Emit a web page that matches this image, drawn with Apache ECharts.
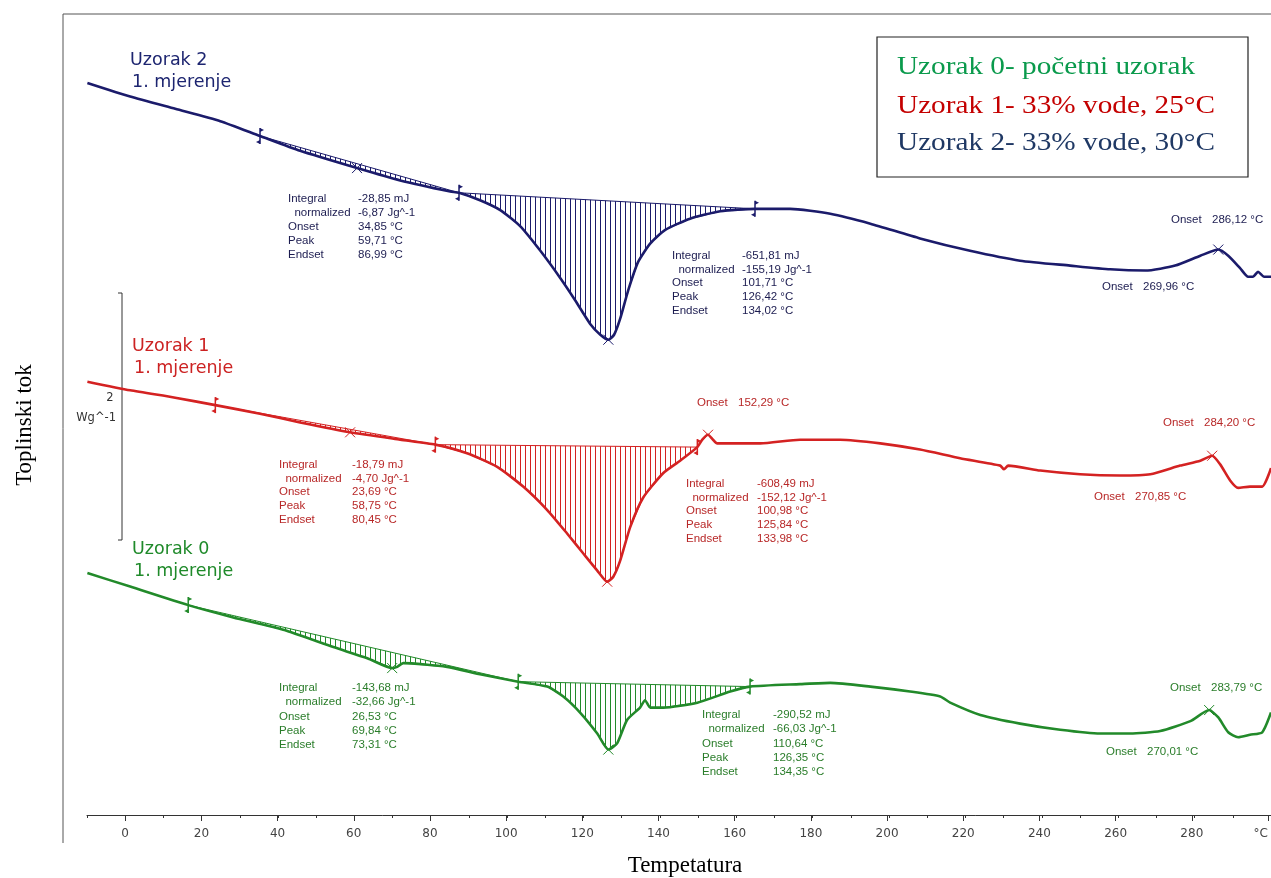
<!DOCTYPE html>
<html><head><meta charset="utf-8">
<script src="https://cdn.jsdelivr.net/npm/echarts@6/dist/echarts.min.js"></script>
<style>html,body{margin:0;padding:0;background:#fff}#c{width:1271px;height:878px}</style>
</head><body><div id="c"></div>
<script>
// ---------------- DATA ----------------
// Uzorak 2 (blue) : temperature (°C) and heat flow (W/g, offset)
const s2Temp = [-9.9,1.3,13.1,24.9,35.3,45.8,60.7,72.0,85.1,87.4,92.9,98.2,103.4,108.7,113.9,117.8,121.7,124.4,126.5,128.0,129.6,131.7,134.3,137.5,141.4,147.9,155.8,164.9,174.1,184.6,195.1,208.1,221.2,234.3,247.4,257.9,267.1,274.9,281.5,286.2,288.8,291.9,294.0,295.3,296.6,298.2,300.0];
const s2Flow = [5.93,5.82,5.72,5.62,5.50,5.38,5.24,5.14,5.05,5.04,4.98,4.90,4.77,4.57,4.35,4.17,3.98,3.89,3.85,3.89,4.02,4.25,4.48,4.63,4.74,4.83,4.89,4.91,4.91,4.87,4.79,4.67,4.57,4.49,4.45,4.42,4.41,4.45,4.53,4.58,4.53,4.43,4.36,4.36,4.40,4.36,4.36];
const s2Regions = [[35.3,87.4],[87.4,164.9]];
const s2Limits = [35.3,87.4,164.9];
const s2Peaks = [60.7,126.5,286.2];

// Uzorak 1 (red)
const s1Temp = [-9.9,1.3,13.1,23.6,35.3,45.8,58.9,72.0,81.2,89.5,97.4,104.2,110.5,115.7,119.9,123.6,126.2,127.8,129.6,132.2,135.6,140.9,145.3,149.8,151.1,152.6,153.9,155.0,166.3,176.7,187.2,197.7,208.1,218.6,229.1,230.1,231.2,239.6,250.0,260.5,268.4,276.2,281.5,284.6,286.7,289.3,291.4,294.5,297.7,300.0];
const s1Flow = [3.51,3.44,3.38,3.32,3.25,3.18,3.10,3.04,3.00,2.93,2.82,2.66,2.47,2.28,2.12,1.98,1.89,1.93,2.06,2.33,2.57,2.77,2.87,2.98,3.04,3.08,3.04,3.01,3.01,3.04,3.04,3.01,2.96,2.89,2.83,2.80,2.83,2.79,2.76,2.75,2.76,2.83,2.87,2.91,2.84,2.71,2.65,2.66,2.66,2.81];
const s1Regions = [[23.6,81.2],[81.2,149.8]];
const s1Limits = [23.6,81.2,149.8];
const s1Peaks = [58.9,126.2,152.6,284.6];

// Uzorak 0 (green)
const s0Temp = [-9.9,1.3,16.5,28.3,41.4,54.5,63.4,69.9,71.2,72.8,84.3,92.9,102.9,110.5,114.7,119.1,123.6,126.5,128.8,131.4,134.8,136.1,137.5,140.9,149.8,158.4,163.6,176.7,184.6,195.1,205.5,213.4,216.0,223.9,234.3,244.8,255.3,263.1,271.0,278.9,283.8,286.2,288.8,291.4,294.5,297.7,300.0];
const s0Flow = [1.96,1.85,1.70,1.60,1.50,1.36,1.27,1.19,1.20,1.23,1.20,1.14,1.08,1.04,0.96,0.83,0.66,0.53,0.58,0.77,0.87,0.93,0.87,0.87,0.91,1.00,1.04,1.06,1.07,1.04,1.00,0.96,0.91,0.81,0.74,0.69,0.66,0.66,0.68,0.76,0.85,0.79,0.67,0.63,0.65,0.67,0.83];
const s0Regions = [[16.5,102.9],[102.9,163.6]];
const s0Limits = [16.5,102.9,163.6];
const s0Peaks = [69.9,126.5,283.8];

// annotation texts
const annLabels = ['Integral','  normalized','Onset','Peak','Endset'];
const s2Block1 = ['-28,85 mJ','-6,87 Jg^-1','34,85 °C','59,71 °C','86,99 °C'];
const s2Block2 = ['-651,81 mJ','-155,19 Jg^-1','101,71 °C','126,42 °C','134,02 °C'];
const s1Block1 = ['-18,79 mJ','-4,70 Jg^-1','23,69 °C','58,75 °C','80,45 °C'];
const s1Block2 = ['-608,49 mJ','-152,12 Jg^-1','100,98 °C','125,84 °C','133,98 °C'];
const s0Block1 = ['-143,68 mJ','-32,66 Jg^-1','26,53 °C','69,84 °C','73,31 °C'];
const s0Block2 = ['-290,52 mJ','-66,03 Jg^-1','110,64 °C','126,35 °C','134,35 °C'];
const s2Onsets = ['286,12 °C','269,96 °C'];
const s1Onsets = ['152,29 °C','284,20 °C','270,85 °C'];
const s0Onsets = ['283,79 °C','270,01 °C'];
const sampleNames = ['Uzorak 2','Uzorak 1','Uzorak 0'];
const runName = '1. mjerenje';
const legendLines = ['Uzorak 0- početni uzorak','Uzorak 1- 33% vode, 25°C','Uzorak 2- 33% vode, 30°C'];
const scaleLabel = ['2','Wg^-1'];
const xTitle = 'Tempetatura';
const yTitle = 'Toplinski tok';
const xTickUnit = '°C';

// ---------------- STYLE / LAYOUT ----------------
const C2 = '#1b1b6b', C1 = '#d42222', C0 = '#228a2a';
const T2 = '#1c1c50', T1 = '#b82828', T0 = '#2a7d2a';
const annFont = '11.5px "Liberation Sans", Arial, sans-serif';
const titleFont = '17.5px "DejaVu Sans", sans-serif';

function hatchPattern(color, step) {
  const c = document.createElement('canvas');
  c.width = step; c.height = 4;
  const g = c.getContext('2d');
  g.fillStyle = color; g.fillRect(0, 0, 1, 4);
  return {image: c, repeat: 'repeat'};
}
function lookup(T, Y, t) { const i = T.indexOf(t); return Y[i]; }

function lineSeries(T, Y, color) {
  return {type:'line', xAxisIndex:0, yAxisIndex:0, data:T.map((t,i)=>[t,Y[i]]),
    showSymbol:false, silent:true, z:5, smooth:0.2,
    lineStyle:{color:color, width:2.6}};
}
function hatchSeries(T, Y, regions, color) {
  const pat = hatchPattern(color, 5);
  return {type:'custom', xAxisIndex:0, yAxisIndex:0, clip:false, silent:true, z:3,
    data: regions.map(r => [r[0], r[1]]),
    renderItem: function(params, api) {
      const r = regions[params.dataIndex];
      const pts = [];
      for (let i = 0; i < T.length; i++) {
        if (T[i] >= r[0] - 1e-9 && T[i] <= r[1] + 1e-9) pts.push(api.coord([T[i], Y[i]]));
      }
      return {type:'polygon', shape:{points:pts}, style:{fill:pat, stroke:color, lineWidth:1}};
    }};
}
function limitSeries(T, Y, limits, color) {
  return {type:'custom', xAxisIndex:0, yAxisIndex:0, clip:false, silent:true, z:6,
    data: limits.map(t => [t, lookup(T, Y, t)]),
    renderItem: function(params, api) {
      const p = api.coord([api.value(0), api.value(1)]);
      const x = p[0], y = p[1];
      return {type:'group', children:[
        {type:'line', shape:{x1:x,y1:y-8,x2:x,y2:y+8}, style:{stroke:color, lineWidth:1.5}},
        {type:'polygon', shape:{points:[[x,y-8],[x+4,y-6],[x,y-4]]}, style:{fill:color}},
        {type:'polygon', shape:{points:[[x,y+8],[x-4,y+6],[x,y+4]]}, style:{fill:color}}
      ]};
    }};
}
function peakSeries(T, Y, peaks, color) {
  return {type:'custom', xAxisIndex:0, yAxisIndex:0, clip:false, silent:true, z:6,
    data: peaks.map(t => [t, lookup(T, Y, t)]),
    renderItem: function(params, api) {
      const p = api.coord([api.value(0), api.value(1)]);
      const x = p[0], y = p[1], s = 5;
      return {type:'group', children:[
        {type:'line', shape:{x1:x-s,y1:y-s,x2:x+s,y2:y+s}, style:{stroke:color, lineWidth:1}},
        {type:'line', shape:{x1:x-s,y1:y+s,x2:x+s,y2:y-s}, style:{stroke:color, lineWidth:1}}
      ]};
    }};
}

function txt(x, y, text, font, fill, align, vAlign, extra) {
  return Object.assign({type:'text', x:x, y:y, silent:true, z:100,
    style:{text:text, font:font, fill:fill, align:align||'left', verticalAlign:vAlign||'middle'}}, extra||{});
}
function block(xl, xv, top, lh, vals, color) {
  const out = [];
  for (let i = 0; i < 5; i++) {
    out.push(txt(xl, top + i*lh, annLabels[i], annFont, color));
    out.push(txt(xv, top + i*lh, vals[i], annFont, color));
  }
  return out;
}
function onset(xl, y, val, color) {
  return [txt(xl, y, 'Onset', annFont, color), txt(xl + 41, y, val, annFont, color)];
}
function measure(text, font) {
  const c = document.createElement('canvas').getContext('2d');
  c.font = font; return c.measureText(text).width;
}

const legendFont = '25px "Liberation Serif", "Times New Roman", serif';
const legendColors = ['#0a9a4c', '#c40000', '#1f3864'];
const legendY = [67, 106, 143];
const legendW = [298, 318, 318];

let graphics = [];
// frame
graphics.push({type:'line', shape:{x1:63,y1:14,x2:1271,y2:14}, style:{stroke:'#555', lineWidth:1}, silent:true});
graphics.push({type:'line', shape:{x1:63,y1:14,x2:63,y2:843}, style:{stroke:'#555', lineWidth:1}, silent:true});
// scale bar
graphics.push({type:'polyline', shape:{points:[[118,293],[122,293],[122,540],[118,540]]}, style:{stroke:'#333', lineWidth:1, fill:null}, silent:true});
graphics.push(txt(110, 398, scaleLabel[0], '11.5px "DejaVu Sans", sans-serif', '#333', 'center'));
graphics.push(txt(116, 418, scaleLabel[1], '11.5px "DejaVu Sans", sans-serif', '#333', 'right'));
// axis titles
graphics.push(txt(25, 425, yTitle, '23px "Liberation Serif", "Times New Roman", serif', '#000', 'center', 'middle', {rotation: Math.PI/2}));
graphics.push(txt(685, 866, xTitle, '23px "Liberation Serif", "Times New Roman", serif', '#000', 'center', 'middle'));
// sample titles
graphics.push(txt(130, 60, sampleNames[0], titleFont, '#1d2570'));
graphics.push(txt(132, 82, runName, titleFont, '#1d2570'));
graphics.push(txt(132, 346, sampleNames[1], titleFont, '#cc2222'));
graphics.push(txt(134, 368, runName, titleFont, '#cc2222'));
graphics.push(txt(132, 549, sampleNames[2], titleFont, '#1f8a2a'));
graphics.push(txt(134, 571, runName, titleFont, '#1f8a2a'));
// annotation blocks
graphics = graphics.concat(block(288, 358, 199, 14, s2Block1, T2));
graphics = graphics.concat(block(672, 742, 256, 13.6, s2Block2, T2));
graphics = graphics.concat(block(279, 352, 465, 13.6, s1Block1, T1));
graphics = graphics.concat(block(686, 757, 484, 13.6, s1Block2, T1));
graphics = graphics.concat(block(279, 352, 688, 14.2, s0Block1, T0));
graphics = graphics.concat(block(702, 773, 715, 14.2, s0Block2, T0));
graphics = graphics.concat(onset(1171, 220, s2Onsets[0], T2));
graphics = graphics.concat(onset(1102, 287, s2Onsets[1], T2));
graphics = graphics.concat(onset(697, 403, s1Onsets[0], T1));
graphics = graphics.concat(onset(1163, 423, s1Onsets[1], T1));
graphics = graphics.concat(onset(1094, 497, s1Onsets[2], T1));
graphics = graphics.concat(onset(1170, 688, s0Onsets[0], T0));
graphics = graphics.concat(onset(1106, 752, s0Onsets[1], T0));
// legend box
graphics.push({type:'rect', shape:{x:877,y:37,width:371,height:140}, style:{stroke:'#222', lineWidth:1.2, fill:'#fff'}, silent:true, z:90});
for (let i = 0; i < 3; i++) {
  const w = measure(legendLines[i], legendFont);
  graphics.push(txt(897, legendY[i], legendLines[i], legendFont, legendColors[i], 'left', 'middle', {scaleX: legendW[i]/w}));
}

const chart = echarts.init(document.getElementById('c'), null, {renderer:'canvas'});
chart.setOption({
  animation:false,
  backgroundColor:'#fff',
  grid:[{left:87, right:0, top:15, bottom:63}, {left:125.19, right:0, top:15, bottom:63}],
  xAxis:[
    {gridIndex:0, type:'value', min:-10, max:300, interval:10,
     axisLine:{lineStyle:{color:'#333', width:1}}, axisTick:{length:3, lineStyle:{color:'#333'}},
     axisLabel:{show:false}, splitLine:{show:false}},
    {gridIndex:1, type:'value', min:0, max:300, interval:20,
     axisLine:{show:false}, axisTick:{length:6, lineStyle:{color:'#333'}},
     axisLabel:{fontFamily:'"DejaVu Sans", sans-serif', fontSize:12, color:'#444', margin:13,
       alignMaxLabel:'right', formatter: v => v === 300 ? xTickUnit : String(v)},
     splitLine:{show:false}}
  ],
  yAxis:[
    {gridIndex:0, type:'value', min:0, max:6.48, show:false},
    {gridIndex:1, type:'value', min:0, max:1, show:false}
  ],
  series:[
    hatchSeries(s2Temp, s2Flow, s2Regions, C2),
    hatchSeries(s1Temp, s1Flow, s1Regions, C1),
    hatchSeries(s0Temp, s0Flow, s0Regions, C0),
    lineSeries(s2Temp, s2Flow, C2),
    lineSeries(s1Temp, s1Flow, C1),
    lineSeries(s0Temp, s0Flow, C0),
    limitSeries(s2Temp, s2Flow, s2Limits, C2),
    limitSeries(s1Temp, s1Flow, s1Limits, C1),
    limitSeries(s0Temp, s0Flow, s0Limits, C0),
    peakSeries(s2Temp, s2Flow, s2Peaks, C2),
    peakSeries(s1Temp, s1Flow, s1Peaks, C1),
    peakSeries(s0Temp, s0Flow, s0Peaks, C0)
  ],
  graphic: graphics
});
</script>
</body></html>
